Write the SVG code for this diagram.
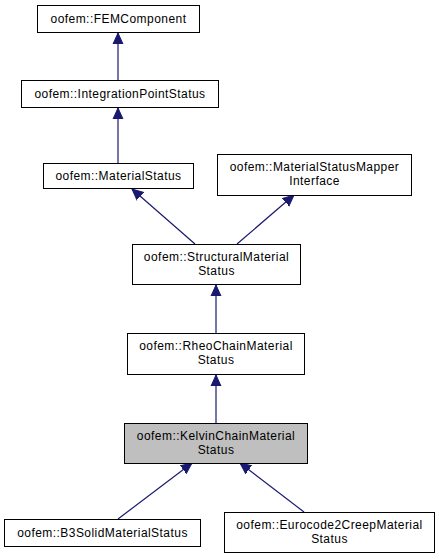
<svg xmlns="http://www.w3.org/2000/svg" width="439" height="559" viewBox="0 0 439 559">
<defs>
<style>
.node rect{fill:#ffffff;stroke:#000000;stroke-width:1}
.node.cur rect{fill:#bfbfbf}
.node text{font-family:"Liberation Sans",Arial,Helvetica,sans-serif;font-size:12px;letter-spacing:0.45px;text-anchor:middle;fill:#000000}
.edges line{stroke:#191970;stroke-width:1.2;marker-end:url(#arr)}
</style>
<marker id="arr" markerUnits="userSpaceOnUse" markerWidth="12" markerHeight="12" viewBox="0 0 12 12" refX="11" refY="6" orient="auto">
<path d="M0,1 L11,6 L0,11 Z" fill="#191970" stroke="#191970" stroke-width="1"/>
</marker>
</defs>
<rect width="439" height="559" fill="#ffffff"/>
<g class="edges">
<line x1="118" y1="80" x2="118" y2="33"/>
<line x1="118" y1="163" x2="118" y2="108"/>
<line x1="195" y1="244" x2="132" y2="189"/>
<line x1="237" y1="244" x2="294" y2="195"/>
<line x1="216" y1="333" x2="216" y2="285"/>
<line x1="216" y1="423" x2="216" y2="375"/>
<line x1="118" y1="519" x2="192" y2="463"/>
<line x1="304" y1="512" x2="240" y2="463"/>
</g>
<g id="FEMComponent" class="node"><rect x="37.5" y="5.5" width="162" height="27"/><text x="118.5" y="23">oofem::FEMComponent</text></g>
<g id="IntegrationPointStatus" class="node"><rect x="21.5" y="80.5" width="197" height="27"/><text x="120" y="98">oofem::IntegrationPointStatus</text></g>
<g id="MaterialStatus" class="node"><rect x="43.5" y="163.5" width="150" height="25"/><text x="118.5" y="180">oofem::MaterialStatus</text></g>
<g id="MaterialStatusMapperInterface" class="node"><rect x="217.5" y="154.5" width="194" height="41"/><text x="314.5" y="171">oofem::MaterialStatusMapper</text><text x="314.5" y="185">Interface</text></g>
<g id="StructuralMaterialStatus" class="node"><rect x="132.5" y="244.5" width="168" height="40"/><text x="216.5" y="261">oofem::StructuralMaterial</text><text x="216.5" y="275">Status</text></g>
<g id="RheoChainMaterialStatus" class="node"><rect x="127.5" y="333.5" width="177" height="41"/><text x="216" y="350">oofem::RheoChainMaterial</text><text x="216" y="364">Status</text></g>
<g id="KelvinChainMaterialStatus" class="node cur"><rect x="124.5" y="423.5" width="183" height="40"/><text x="216" y="440">oofem::KelvinChainMaterial</text><text x="216" y="454">Status</text></g>
<g id="B3SolidMaterialStatus" class="node"><rect x="4.5" y="519.5" width="196" height="27"/><text x="102.5" y="537">oofem::B3SolidMaterialStatus</text></g>
<g id="Eurocode2CreepMaterialStatus" class="node"><rect x="224.5" y="512.5" width="210" height="40"/><text x="329.5" y="529">oofem::Eurocode2CreepMaterial</text><text x="329.5" y="543">Status</text></g>
</svg>
